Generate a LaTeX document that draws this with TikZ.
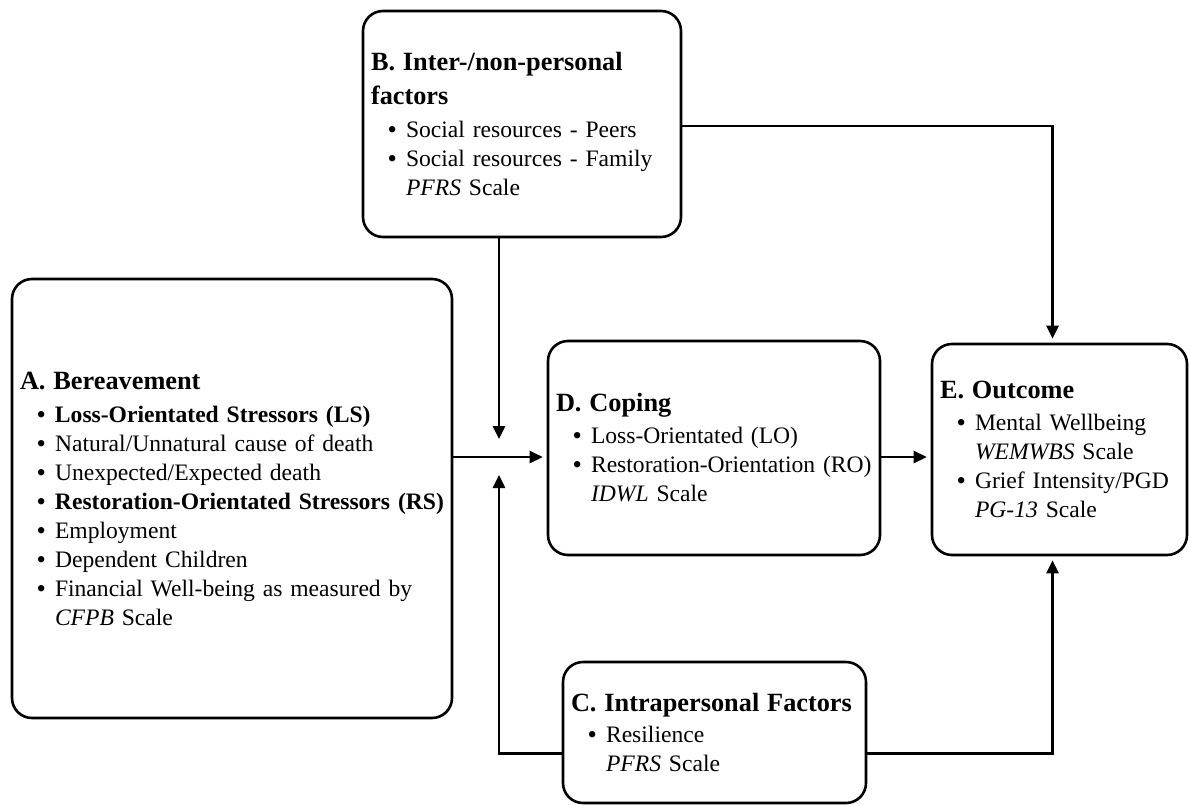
\documentclass[tikz,border=0pt]{standalone}
\usepackage{fontspec}
\setmainfont{Liberation Serif}
\usetikzlibrary{arrows.meta}

\newcommand{\head}[1]{\mbox{\fontsize{26.3}{31}\selectfont\bfseries #1}}
\newcommand{\itm}[1]{\mbox{\hspace*{17pt}\makebox[18pt][l]{\textbf{\textbullet}}#1}}
\newcommand{\cnt}[1]{\mbox{\hspace*{35pt}#1}}

\tikzset{
  factor/.style={draw, line width=2.6pt, rounded corners=20pt, align=left,
    inner xsep=8pt, inner ysep=0pt, font=\fontsize{23.6}{29}\selectfont},
}

\begin{document}
\begin{tikzpicture}[x=1pt, y=-1pt, line width=2.6pt, shorten >=4pt,
    >={Triangle[length=13pt,width=12pt]}]
  \useasboundingbox (0,0) rectangle (1190,805);

  \node[factor, text width=424pt, minimum height=439pt] (A) at (232,498.5) {%
    \head{A. Bereavement}\\[4pt]
    \itm{\bfseries Loss-Orientated Stressors (LS)}\\
    \itm{Natural/Unnatural cause of death}\\
    \itm{Unexpected/Expected death}\\
    \itm{\bfseries Restoration-Orientated Stressors (RS)}\\
    \itm{Employment}\\
    \itm{Dependent Children}\\
    \itm{Financial Well-being as measured by}\\
    \cnt{\itshape CFPB\/ \upshape Scale}};

  \node[factor, text width=302pt, minimum height=226pt] (B) at (522,124) {%
    \head{B. Inter-/non-personal}\\[5pt]
    \head{factors}\\[4pt]
    \itm{Social resources - Peers}\\
    \itm{Social resources - Family}\\
    \cnt{\itshape PFRS\/ \upshape Scale}};

  \node[factor, text width=316pt, minimum height=214pt] (D) at (714,448) {%
    \head{D. Coping}\\[3pt]
    \itm{Loss-Orientated (LO)}\\
    \itm{Restoration-Orientation (RO)}\\
    \cnt{\itshape IDWL\/ \upshape Scale}};

  \node[factor, text width=239pt, minimum height=211pt] (E) at (1059.5,449.5) {%
    \head{E. Outcome}\\[3pt]
    \itm{Mental Wellbeing}\\
    \cnt{\itshape WEMWBS\/ \upshape Scale}\\
    \itm{Grief Intensity/PGD}\\
    \cnt{\itshape PG-13\/ \upshape Scale}};

  \node[factor, text width=287pt, minimum height=141pt] (C) at (714.5,732.5) {%
    \head{C. Intrapersonal Factors}\\[2pt]
    \itm{Resilience}\\
    \cnt{\itshape PFRS\/ \upshape Scale}};

  % meeting point in front of coping
  \coordinate (hub) at (499,457);

  \draw[->] (hub -| A.east) -- (hub -| D.west);
  \draw[->] (hub |- B.south) -- ([yshift=14pt]hub);
  \draw[->] ([yshift=-21pt]C.west) -| ([yshift=-14pt]hub);
  \draw[->] (hub -| D.east) -- (hub -| E.west);
  \draw[->] ([yshift=-2pt]B.east) -| ([xshift=-7pt]E.north);
  \draw[->] ([yshift=-21pt]C.east) -| ([xshift=-7pt]E.south);
\end{tikzpicture}
\end{document}
